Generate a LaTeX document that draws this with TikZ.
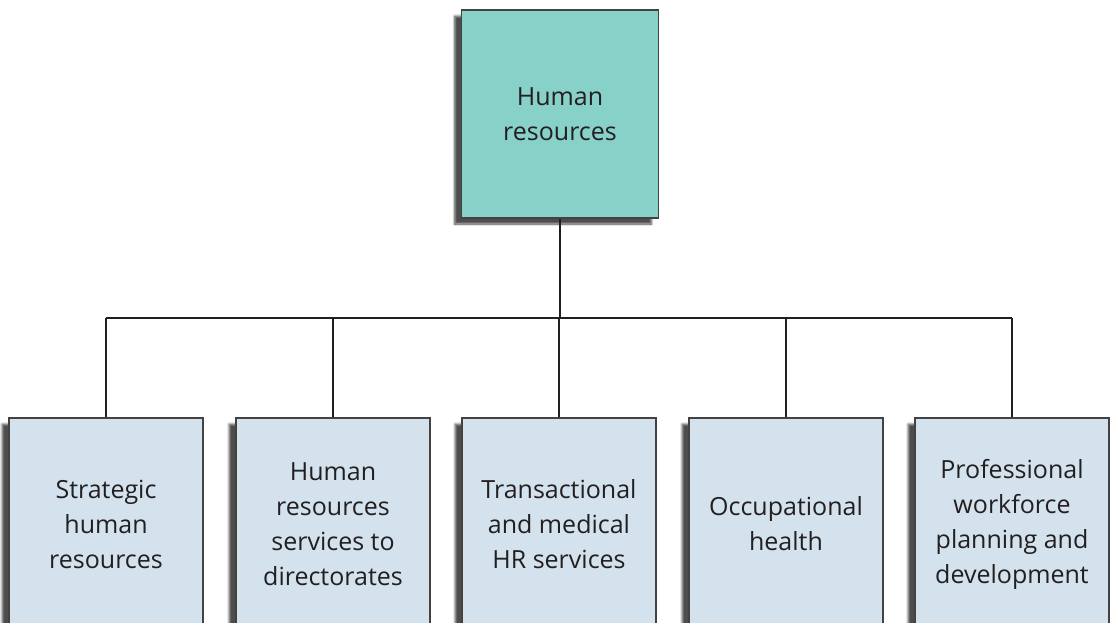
\documentclass[tikz,border=0pt]{standalone}
\usepackage{fontspec}
\setmainfont{Open Sans}
\usetikzlibrary{shadows.blur}
\definecolor{hrteal}{HTML}{88D1C9}
\definecolor{hrblue}{HTML}{D3E2EC}
\definecolor{hrtext}{HTML}{231F20}
\begin{document}
\begin{tikzpicture}[x=1pt, y=-1pt]
        \useasboundingbox (0,0) rectangle (1112,623);
        \clip (0,0) rectangle (1112,623);
        \tikzset{
            unit box/.style={
                draw=hrtext!85, line width=1.2pt, text=hrtext,
                align=center, font=\fontsize{25}{35}\selectfont,
                blur shadow={shadow xshift=-7pt, shadow yshift=-6pt, shadow blur steps=6, shadow opacity=70},
            },
            head box/.style={unit box, fill=hrteal, minimum width=197pt, minimum height=208pt},
            dept box/.style={unit box, fill=hrblue, minimum width=194pt, minimum height=212pt},
            link/.style={draw=hrtext, line width=2.4pt},
        }

        % head of the chart
        \node[head box] (hr) at (560,114) {Human\\resources};

        % departments (x center / name / text)
        \foreach \x/\n/\t in {106/1/{Strategic\\human\\resources},
                              333/2/{Human\\resources\\services to\\directorates},
                              559/3/{Transactional\\and medical\\HR services},
                              786/4/{Occupational\\health},
                              1012/5/{Professional\\workforce\\planning and\\development}} {
            \node[dept box] (sub\n) at (\x,524) {\t};
        }

        % connectors
        \coordinate (bus) at (560,318);
        \draw[link] (hr.south) -- (hr.south |- bus);
        \draw[link] (sub1.north |- bus) -- (sub5.north |- bus);
        \foreach \n in {1,...,5} {
            \draw[link] (sub\n.north) -- (sub\n.north |- bus);
        }
    \end{tikzpicture}
\end{document}
